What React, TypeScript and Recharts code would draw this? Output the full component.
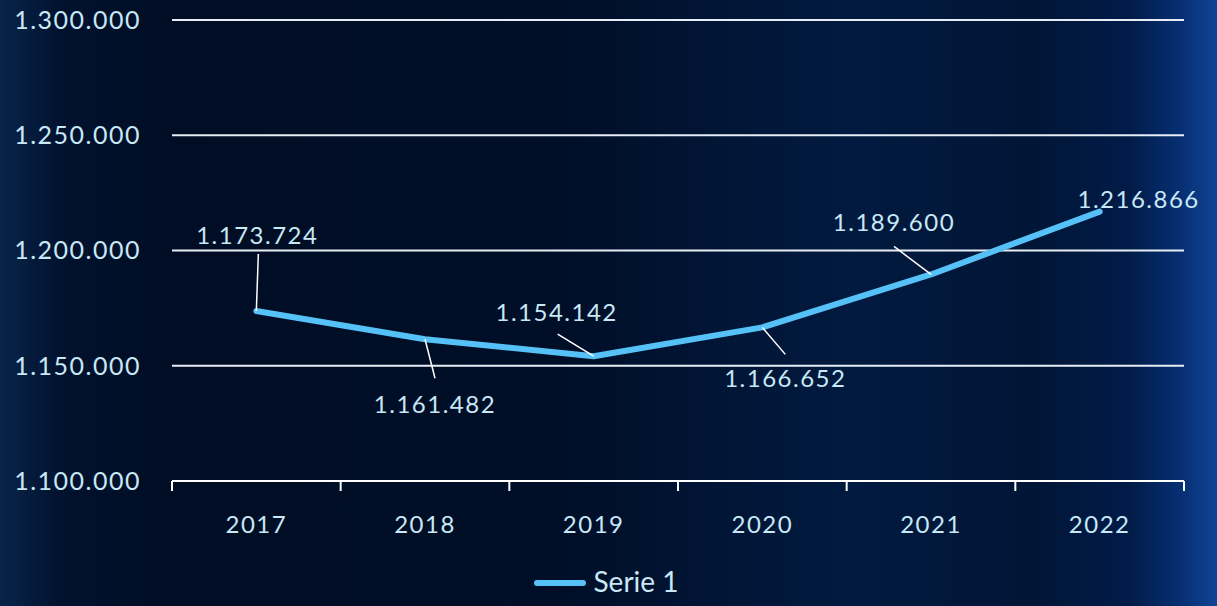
import { LineChart, Line, XAxis, YAxis, CartesianGrid, Legend, LabelList } from 'recharts';

const years = ['2017', '2018', '2019', '2020', '2021', '2022'];
const serie1 = [1173724, 1161482, 1154142, 1166652, 1189600, 1216866];
const yTicks = [1100000, 1150000, 1200000, 1250000, 1300000];

const data = years.map((year, i) => ({ year, serie1: serie1[i] }));

const TEXT = '#c8e8f6';
const LINE = '#55c1f7';
const FONT = 'Lato, "Open Sans", sans-serif';

const W = 1217;
const H = 606;
const LEFT = 172;
const RIGHT = 33;
const BAND = (W - LEFT - RIGHT) / years.length;

// label placement relative to each point: text centre offset and leader line end
const labelOffsets = [
  { dx: 1, dy: -75, lx: 2, ly: -57 },
  { dx: 10, dy: 66, lx: 10, ly: 39 },
  { dx: -37, dy: -43, lx: -36, ly: -22 },
  { dx: 23, dy: 52, lx: 23, ly: 27 },
  { dx: -37, dy: -51, lx: -37, ly: -28 },
  { dx: 39, dy: -12, lx: 0, ly: 0 },
];

const fmt = (v: number) => String(v).replace(/\B(?=(\d{3})+(?!\d))/g, '.');

const PointLabel = (props: any) => {
  const { x, y, index, value } = props;
  const o = labelOffsets[index];
  return (
    <g>
      {(o.lx !== 0 || o.ly !== 0) && (
        <line x1={x} y1={y} x2={x + o.lx} y2={y + o.ly} stroke="#ffffff" strokeWidth={1.5} />
      )}
      <text
        x={x + o.dx}
        y={y + o.dy + 8}
        textAnchor="middle"
        fill={TEXT}
        fontSize={24}
        fontFamily={FONT}
        letterSpacing={1.5}
      >
        {fmt(value)}
      </text>
    </g>
  );
};

const XTick = (props: any) => {
  const { x, y, payload, index } = props;
  const left = x - BAND / 2;
  return (
    <g>
      <line x1={left} y1={y - 2} x2={left} y2={y + 8} stroke="#ffffff" strokeWidth={2} />
      {index === years.length - 1 && (
        <line x1={x + BAND / 2} y1={y - 2} x2={x + BAND / 2} y2={y + 8} stroke="#ffffff" strokeWidth={2} />
      )}
      <text x={x} y={y + 50} textAnchor="middle" fill={TEXT} fontSize={24} fontFamily={FONT} letterSpacing={1.5}>
        {payload.value}
      </text>
    </g>
  );
};

const LegendContent = () => (
  <div style={{ display: 'flex', justifyContent: 'center', alignItems: 'center', height: 40, paddingLeft: 28 }}>
    <svg width={52} height={10} style={{ marginRight: 8 }}>
      <line x1={3} y1={5} x2={49} y2={5} stroke={LINE} strokeWidth={6} strokeLinecap="round" />
    </svg>
    <span style={{ color: TEXT, fontSize: 28, fontFamily: FONT, marginTop: -4 }}>Serie 1</span>
  </div>
);

export default function App() {
  return (
    <div
      style={{
        position: 'fixed',
        left: 0,
        top: 0,
        width: W,
        height: H,
        background:
          'linear-gradient(to right, rgba(15,55,105,0.55) 0%, rgba(5,30,70,0.3) 5%, rgba(0,0,0,0) 13%, rgba(0,0,0,0) 93%, rgba(10,60,140,0.55) 97%, rgba(20,80,170,0.75) 100%),' +
          'linear-gradient(to right, #000d24 0%, #000e27 45%, #021a40 70%, #011536 85%, #02225a 100%)',
      }}
    >
      <LineChart width={W} height={H} data={data} margin={{ top: 20, right: RIGHT, left: 0, bottom: 3 }}>
        <CartesianGrid vertical={false} stroke="#e6edf4" strokeWidth={2} />
        <XAxis
          dataKey="year"
          height={82}
          padding={{ left: BAND / 2, right: BAND / 2 }}
          axisLine={{ stroke: '#ffffff', strokeWidth: 2 }}
          tickLine={false}
          tickSize={0}
          tick={<XTick />}
          interval={0}
        />
        <YAxis
          width={LEFT}
          domain={[1100000, 1300000]}
          ticks={yTicks}
          axisLine={false}
          tickLine={false}
          tickSize={0}
          tickMargin={31}
          tickFormatter={fmt}
          tick={{ fill: TEXT, fontSize: 25, fontFamily: FONT, letterSpacing: 1.5 }}
        />
        <Legend verticalAlign="bottom" height={40} content={<LegendContent />} />
        <Line
          type="linear"
          dataKey="serie1"
          name="Serie 1"
          stroke={LINE}
          strokeWidth={6}
          strokeLinecap="round"
          strokeLinejoin="round"
          dot={false}
          isAnimationActive={false}
        >
          <LabelList dataKey="serie1" content={<PointLabel />} />
        </Line>
      </LineChart>
    </div>
  );
}
